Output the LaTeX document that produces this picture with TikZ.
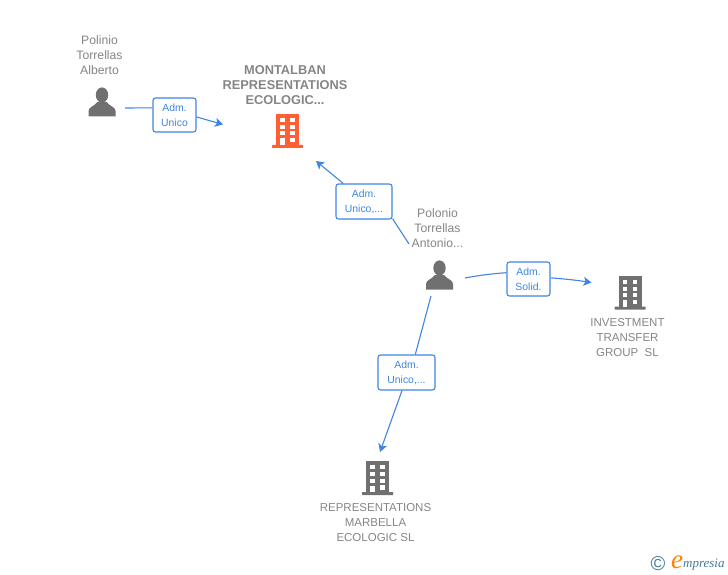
\documentclass[tikz,border=0pt]{standalone}
\usepackage{fontspec}
\setmainfont{Liberation Sans}
\newfontfamily\logofont{Liberation Serif}
\usetikzlibrary{arrows.meta}
\definecolor{linkblue}{HTML}{3F85E3}
\definecolor{labelgray}{HTML}{858585}
\definecolor{icongray}{HTML}{707070}
\definecolor{iconred}{HTML}{FF5F33}
\definecolor{logoblue}{HTML}{3C7D96}
\tikzset{
  link/.style={draw=linkblue,line width=1.1pt},
  linkto/.style={link,-{Stealth[length=8pt,width=9pt,inset=2pt]}},
  relbox/.style={draw=linkblue,line width=1.1pt,fill=white,rounded corners=2.5pt,inner sep=0pt,
    align=center,text=linkblue,font=\fontsize{10.4}{15}\selectfont},
  namelabel/.style={align=center,text=labelgray,font=\fontsize{12.2}{15}\selectfont},
  companylabel/.style={align=center,text=labelgray,font=\fontsize{11.5}{15}\selectfont},
  titlelabel/.style={align=center,text=labelgray,font=\bfseries\fontsize{12.8}{15}\selectfont},
  pics/person/.style={code={
    \fill[icongray] (0,-8) ellipse (6.2 and 7.6);
    \fill[icongray] (-13.5,13.5) -- (-13.5,8) .. controls (-13.5,4) and (-8,3.5) .. (-4.5,-1)
      -- (4.5,-1) .. controls (8,3.5) and (13.5,4) .. (13.5,8) -- (13.5,13.5) -- cycle;
  }},
  pics/building/.style={code={
    \fill[#1] (-11.5,0) rectangle (11.5,31);
    \fill[#1,rounded corners=0.5pt] (-15.5,31) rectangle (15.5,34);
    \foreach \wy in {4,11,17.5} {
      \fill[white] (-7.5,\wy) rectangle (-3,\wy+4);
      \fill[white] (2.5,\wy) rectangle (7,\wy+4);
    }
    \fill[white] (-7.5,24.5) rectangle (-3,31);
    \fill[white] (2.5,24) rectangle (7,28.5);
  }}
}
\begin{document}
\begin{tikzpicture}[x=1pt,y=-1pt]
  \useasboundingbox (0,0) rectangle (728,575);

  % people
  \node[namelabel] (alberto) at (99.5,55) {Polinio\\Torrellas\\Alberto};
  \draw (102,103) pic {person};
  \node[namelabel] (antonio) at (437.5,228) {Polonio\\Torrellas\\Antonio...};
  \draw (439.5,276) pic {person};

  % companies
  \node[titlelabel] (montalban) at (285,85) {MONTALBAN\\REPRESENTATIONS\\ECOLOGIC...};
  \draw (287.5,114) pic {building=iconred};
  \node[companylabel] (investment) at (627.5,337.5) {INVESTMENT\\TRANSFER\\GROUP\ \ SL};
  \draw (630,275.5) pic {building=icongray};
  \node[companylabel] (marbella) at (375.5,522.5) {REPRESENTATIONS\\MARBELLA\\ECOLOGIC SL};
  \draw (377.5,461) pic {building=icongray};

  % free ends
  \coordinate (fromalberto) at (125,108);
  \coordinate (tomontalban) at (223,124.5);
  \coordinate (tomontalbanb) at (316,161);
  \coordinate (fromantonio) at (409,244);
  \coordinate (fromantoniob) at (465,278);
  \coordinate (fromantonioc) at (431,296);
  \coordinate (toinvestment) at (591.5,282.5);
  \coordinate (tomarbella) at (380,452);

  % relations
  \node[relbox,minimum width=43pt,minimum height=34pt] (adma) at (174.5,115) {Adm.\\Unico};
  \node[relbox,minimum width=56pt,minimum height=35pt] (admb) at (364,201.5) {Adm.\\Unico,...};
  \node[relbox,minimum width=43pt,minimum height=34pt] (admc) at (528.5,279) {Adm.\\Solid.};
  \node[relbox,minimum width=57pt,minimum height=35pt] (admd) at (406.5,372.5) {Adm.\\Unico,...};

  \draw[link] (fromalberto) -- (adma.162);
  \draw[linkto] (adma.-5) -- (tomontalban);
  \draw[link] (fromantonio) -- (admb.-31);
  \draw[linkto] (admb.139) -- (tomontalbanb);
  \draw[link] (fromantoniob) to[bend left=3] (admc.164);
  \draw[linkto] (admc.3) to[bend left=2] (toinvestment);
  \draw[link] (fromantonioc) -- (admd.64);
  \draw[linkto] (admd.-104) -- (tomarbella);

  % logo
  \node[text=logoblue,font=\fontsize{20}{20}\selectfont,inner sep=0pt] (copyr) at (658,564) {©};
  \node[inner sep=0pt,text=orange,font=\logofont\itshape\fontsize{27}{27}\selectfont] (logoe) at (677,562) {e};
  \node[inner sep=0pt,text=logoblue,font=\logofont\itshape\fontsize{13}{13}\selectfont,anchor=west] (logotext) at (683,565) {mpresia};
\end{tikzpicture}
\end{document}
